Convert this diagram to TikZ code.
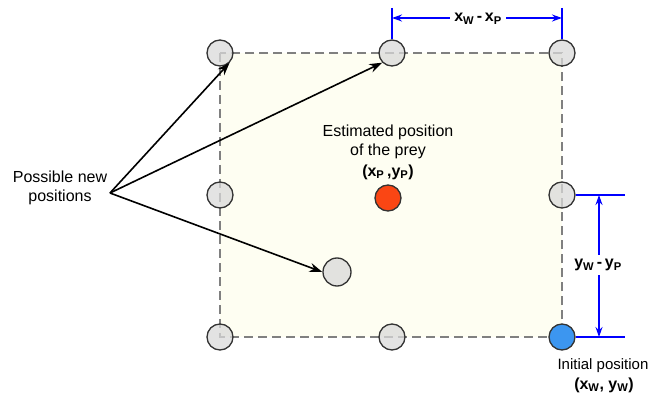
\documentclass[tikz,border=0pt]{standalone}
\usepackage{fontspec}
\setmainfont{Liberation Sans}
\usetikzlibrary{arrows.meta}
\begin{document}
\begin{tikzpicture}[x=1pt,y=-1pt,
  posn/.style={circle,draw=black!80,line width=1.3pt,fill=black!15,fill opacity=0.75,text opacity=1,minimum size=26pt,inner sep=0pt},
  txt/.style={font=\fontsize{16}{19}\selectfont,align=center,inner sep=1pt},
  btxt/.style={font=\fontsize{16}{19}\selectfont\bfseries,align=center,inner sep=1pt},
  dim/.style={draw=blue,color=blue,line width=1.5pt},
  dimtip/.style={dim,{Stealth[length=10pt,width=7pt]}-},
  ptr/.style={draw=black,line width=1.6pt,-{Stealth[length=13pt,width=9pt]}}]
\useasboundingbox (0,0) rectangle (651,401);
% area
\fill[fill={rgb,255:red,254;green,254;blue,242}] (220,53) rectangle (562,337);
\draw[black!50,line width=2pt,dash pattern=on 9pt off 5pt] (220,53) rectangle (562,337);
% circles
\node[posn] (c1) at (220,53) {};
\node[posn] (c2) at (392,53) {};
\node[posn] (c3) at (562,53) {};
\node[posn] (c4) at (220,195) {};
\node[posn] (c5) at (562,195) {};
\node[posn] (c6) at (220,337) {};
\node[posn] (c7) at (392,337) {};
\node[posn,fill={rgb,255:red,60;green,150;blue,240},fill opacity=1] (c8) at (562,337) {};
\node[posn,minimum size=28pt] (n) at (337,272) {};
\node[posn,fill={rgb,255:red,250;green,70;blue,20},fill opacity=1] (prey) at (388,198) {};
% texts
\node[txt] (est) at (388,142) {Estimated position\\of the prey};
\node[btxt] (xp) at (388,172) {(x\textsubscript{P}\,,y\textsubscript{P})};
\node[txt] (poss) at (60,188) {Possible new\\positions};
\coordinate (pt) at (110,193);
\node[txt,font=\fontsize{15}{18}\selectfont] (init) at (603,366) {Initial position};
\node[btxt] (xw) at (604,385) {(x\textsubscript{W}, y\textsubscript{W})};
% pointers
\draw[ptr] (pt) -- (c1.south east);
\draw[ptr] (pt) -- (c2.south west);
\draw[ptr] (pt) -- (n.west);
% dimension top
\coordinate (t1) at (392,8);
\coordinate (t2) at (562,8);
\coordinate (a1) at (392,18);
\coordinate (a2) at (562,18);
\draw[dim] (t1) -- (c2.north);
\draw[dim] (t2) -- (c3.north);
\node[btxt,inner sep=4pt] (dx) at (478,19) {x\textsubscript{W}\,-\,x\textsubscript{P}};
\draw[dimtip] (a1) -- (dx.west |- a1);
\draw[dimtip] (a2) -- (dx.east |- a2);
% dimension right
\coordinate (r1) at (625,195);
\coordinate (r2) at (625,337);
\coordinate (b1) at (599,195);
\coordinate (b2) at (599,337);
\draw[dim] (c5.east) -- (r1);
\draw[dim] (c8.east) -- (r2);
\node[btxt,inner sep=4pt] (dy) at (598,265) {y\textsubscript{W}\,-\,y\textsubscript{P}};
\draw[dimtip] (b1) -- (b1 |- dy.north);
\draw[dimtip] (b2) -- (b2 |- dy.south);
\end{tikzpicture}
\end{document}
